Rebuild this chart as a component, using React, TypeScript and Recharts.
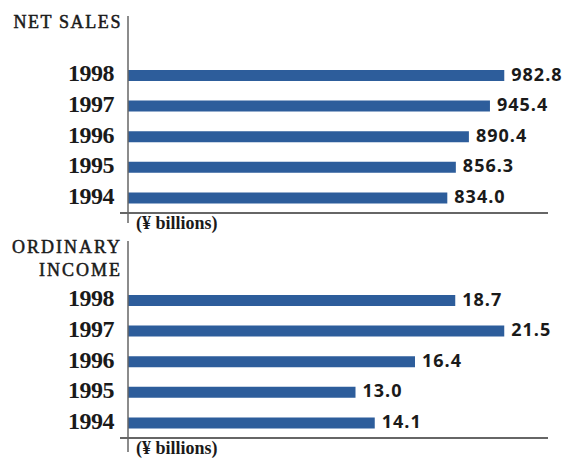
import React from "react";
import { BarChart, Bar, XAxis, YAxis, LabelList } from "recharts";

const years = ["1998", "1997", "1996", "1995", "1994"];
const netSalesValues = [982.8, 945.4, 890.4, 856.3, 834.0];
const ordinaryIncomeValues = [18.7, 21.5, 16.4, 13.0, 14.1];
const unitLabel = "(¥ billions)";
const netSalesTitle = ["NET SALES"];
const ordinaryTitle = ["ORDINARY", "INCOME"];

const netSalesData = years.map((y, i) => ({ year: y, value: netSalesValues[i] }));
const ordinaryData = years.map((y, i) => ({ year: y, value: ordinaryIncomeValues[i] }));

const BAR = "#2d5d9b";
const AXIS = "#666";
const TEXT = "#1a1a1a";
const SERIF = "'Liberation Serif', 'Times New Roman', serif";
const SANS = "'Open Sans', 'Liberation Sans', sans-serif";

const YearTick = (props: any) => {
  const { x, y, payload } = props;
  return (
    <text x={x} y={y + 6} textAnchor="end" fontFamily={SERIF} fontWeight={700} fontSize={24} letterSpacing={-0.5} fill={TEXT}>
      {payload.value}
    </text>
  );
};

const makeUnitTick = (ext: number) => (props: any) => {
  const { x, y } = props;
  return (
    <g>
      <line x1={x - 8} y1={y} x2={x} y2={y} stroke={AXIS} strokeWidth={2} />
      <line x1={x} y1={y} x2={x} y2={y + ext} stroke={AXIS} strokeWidth={1.5} />
      <text x={x + 8} y={y + 16} fontFamily={SERIF} fontWeight={700} fontSize={18} fill={TEXT}>
        {unitLabel}
      </text>
    </g>
  );
};

const ValueLabel = (props: any) => {
  const { x, y, width, height, value } = props;
  return (
    <text x={x + width + 7} y={y + height / 2 + 5} fontFamily={SANS} fontWeight={700} fontSize={18} letterSpacing={1} fill={TEXT}>
      {Number(value).toFixed(1)}
    </text>
  );
};

function Panel({ data, max, height, top, ext }: { data: any[]; max: number; height: number; top: number; ext: number }) {
  const xAxisH = top === 0 ? 27 : 20;
  return (
    <div style={{ position: "absolute", left: 0, top }}>
      <BarChart width={562} height={height} data={data} layout="vertical" margin={{ top: top === 0 ? 16 : 15, right: 14, bottom: 0, left: 0 }}>
        <XAxis
          type="number"
          domain={[0, max]}
          ticks={[0]}
          height={xAxisH}
          tickLine={false}
          tickSize={0}
          tickMargin={0}
          axisLine={{ stroke: AXIS, strokeWidth: 2 }}
          tick={makeUnitTick(ext)}
          interval={0}
        />
        <YAxis
          type="category"
          dataKey="year"
          width={128}
          padding={{ top: 44, bottom: 0 }}
          tickLine={false}
          tickSize={0}
          tickMargin={14}
          axisLine={{ stroke: AXIS, strokeWidth: 1.5 }}
          tick={YearTick}
          interval={0}
        />
        <Bar dataKey="value" fill={BAR} barSize={11} isAnimationActive={false}>
          <LabelList dataKey="value" content={ValueLabel} />
        </Bar>
      </BarChart>
    </div>
  );
}

export default function App() {
  return (
    <div style={{ position: "absolute", left: 0, top: 0, width: 562, height: 458, background: "#fff", overflow: "hidden" }}>
      <Panel data={netSalesData} max={1097} height={240} top={0} ext={10} />
      <Panel data={ordinaryData} max={24} height={232} top={226} ext={14} />
      <svg width={562} height={458} style={{ position: "absolute", left: 0, top: 0, pointerEvents: "none" }}>
        {netSalesTitle.map((t, i) => (
          <text key={t} x={122} y={28 + i * 23} textAnchor="end" fontFamily={SERIF} fontSize={18} letterSpacing={1.6} fill={TEXT} stroke={TEXT} strokeWidth={0.5}>
            {t}
          </text>
        ))}
        {ordinaryTitle.map((t, i) => (
          <text key={t} x={122} y={253 + i * 23} textAnchor="end" fontFamily={SERIF} fontSize={18} letterSpacing={2} fill={TEXT} stroke={TEXT} strokeWidth={0.5}>
            {t}
          </text>
        ))}
      </svg>
    </div>
  );
}
